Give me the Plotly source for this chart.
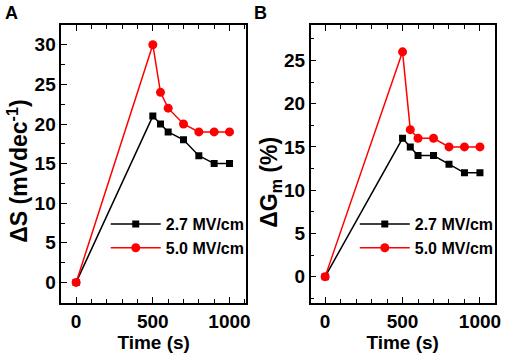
import plotly.graph_objects as go

time_s = [0, 500, 550, 600, 700, 800, 900, 1000]
dS_27 = [0, 21, 20, 19, 18, 16, 15, 15]
dS_50 = [0, 30, 24, 22, 20, 19, 19, 19]
dG_27 = [0, 16, 15, 14, 14, 13, 12, 12]
dG_50 = [0, 26, 17, 16, 16, 15, 15, 15]
series_names = ["2.7 MV/cm", "5.0 MV/cm"]

W, H = 510, 357
FONT = "Liberation Sans, Arial, sans-serif"
BLACK = "#000000"
RED = "#ff0000"

fig = go.Figure()

def add(x, y, name, color, symbol, size, xa, ya, legend, show):
    fig.add_trace(go.Scatter(
        x=x, y=y, name=name, mode="lines+markers",
        line=dict(color=color, width=1.5),
        marker=dict(color=color, symbol=symbol, size=size, line=dict(width=0)),
        xaxis=xa, yaxis=ya, legend=legend, showlegend=show))

add(time_s, dS_27, series_names[0], BLACK, "square", 7, "x", "y", "legend", True)
add(time_s, dS_50, series_names[1], RED, "circle", 9, "x", "y", "legend", True)
add(time_s, dG_27, series_names[0], BLACK, "square", 7, "x2", "y2", "legend2", True)
add(time_s, dG_50, series_names[1], RED, "circle", 9, "x2", "y2", "legend2", True)

ydom = [1 - 303 / H, 1 - 25 / H]
common_axis = dict(
    showline=True, linecolor=BLACK, linewidth=1.5,
    ticks="inside", ticklen=6, tickwidth=1.4, tickcolor=BLACK,
    showgrid=False, zeroline=False,
    tickfont=dict(family=FONT, size=19, color=BLACK, weight="bold"),
)
minor = dict(ticks="inside", ticklen=4, tickwidth=1.3, tickcolor=BLACK, showgrid=False)
xtitle = dict(text="Time (s)", font=dict(family=FONT, size=19, weight="bold"), standoff=4)
legfont = dict(family=FONT, size=16, color=BLACK, weight="bold")
ytfont = dict(family=FONT, size=23, color=BLACK, weight="bold")

fig.update_layout(
    width=W, height=H, margin=dict(l=0, r=0, t=0, b=0),
    paper_bgcolor="white", plot_bgcolor="white",
    font=dict(family=FONT, color=BLACK),
    xaxis=dict(domain=[62 / W, 249 / W], range=[-97, 1108], anchor="y", mirror="ticks",
               tickvals=[0, 500, 1000], minor=dict(dtick=100, tick0=0, **minor),
               title=xtitle, **common_axis),
    yaxis=dict(domain=ydom, range=[-2.6, 32.5], anchor="x", mirror=True,
               dtick=5, tick0=0, minor=dict(dtick=2.5, tick0=0, **minor),
               **common_axis),
    xaxis2=dict(domain=[314.3 / W, 500.7 / W], range=[-94, 1096], anchor="y2", mirror="ticks",
                tickvals=[0, 500, 1000], minor=dict(dtick=100, tick0=0, **minor),
                title=xtitle, **common_axis),
    yaxis2=dict(domain=ydom, range=[-3.05, 29.1], anchor="x2", mirror=True,
                dtick=5, tick0=0, minor=dict(dtick=2.5, tick0=0, **minor),
                **common_axis),
    legend=dict(x=107 / W, y=1 - 207 / H, xanchor="left", yanchor="top",
                bgcolor="rgba(0,0,0,0)", itemwidth=50, tracegroupgap=0, font=legfont),
    legend2=dict(x=359 / W, y=1 - 207 / H, xanchor="left", yanchor="top",
                 bgcolor="rgba(0,0,0,0)", itemwidth=50, tracegroupgap=0, font=legfont),
    annotations=[
        dict(text="A", x=12 / W, y=1 - 13 / H, xref="paper", yref="paper",
             xanchor="center", yanchor="middle", showarrow=False,
             font=dict(family=FONT, size=18, color=BLACK, weight="bold")),
        dict(text="B", x=264 / W, y=1 - 13 / H, xref="paper", yref="paper",
             xanchor="center", yanchor="middle", showarrow=False,
             font=dict(family=FONT, size=18, color=BLACK, weight="bold")),
        dict(text="ΔS (mVdec<sup>-1</sup>)", x=18 / W, y=1 - 171 / H, xref="paper", yref="paper",
             xanchor="center", yanchor="middle", showarrow=False, textangle=-90, font=ytfont),
        dict(text="ΔG<sub>m</sub> (%)", x=273 / W, y=1 - 182 / H, xref="paper", yref="paper",
             xanchor="center", yanchor="middle", showarrow=False, textangle=-90, font=ytfont),
    ],
)

fig.write_html("out.html", config={"displayModeBar": False},
               post_script="document.body.style.margin='0';")
